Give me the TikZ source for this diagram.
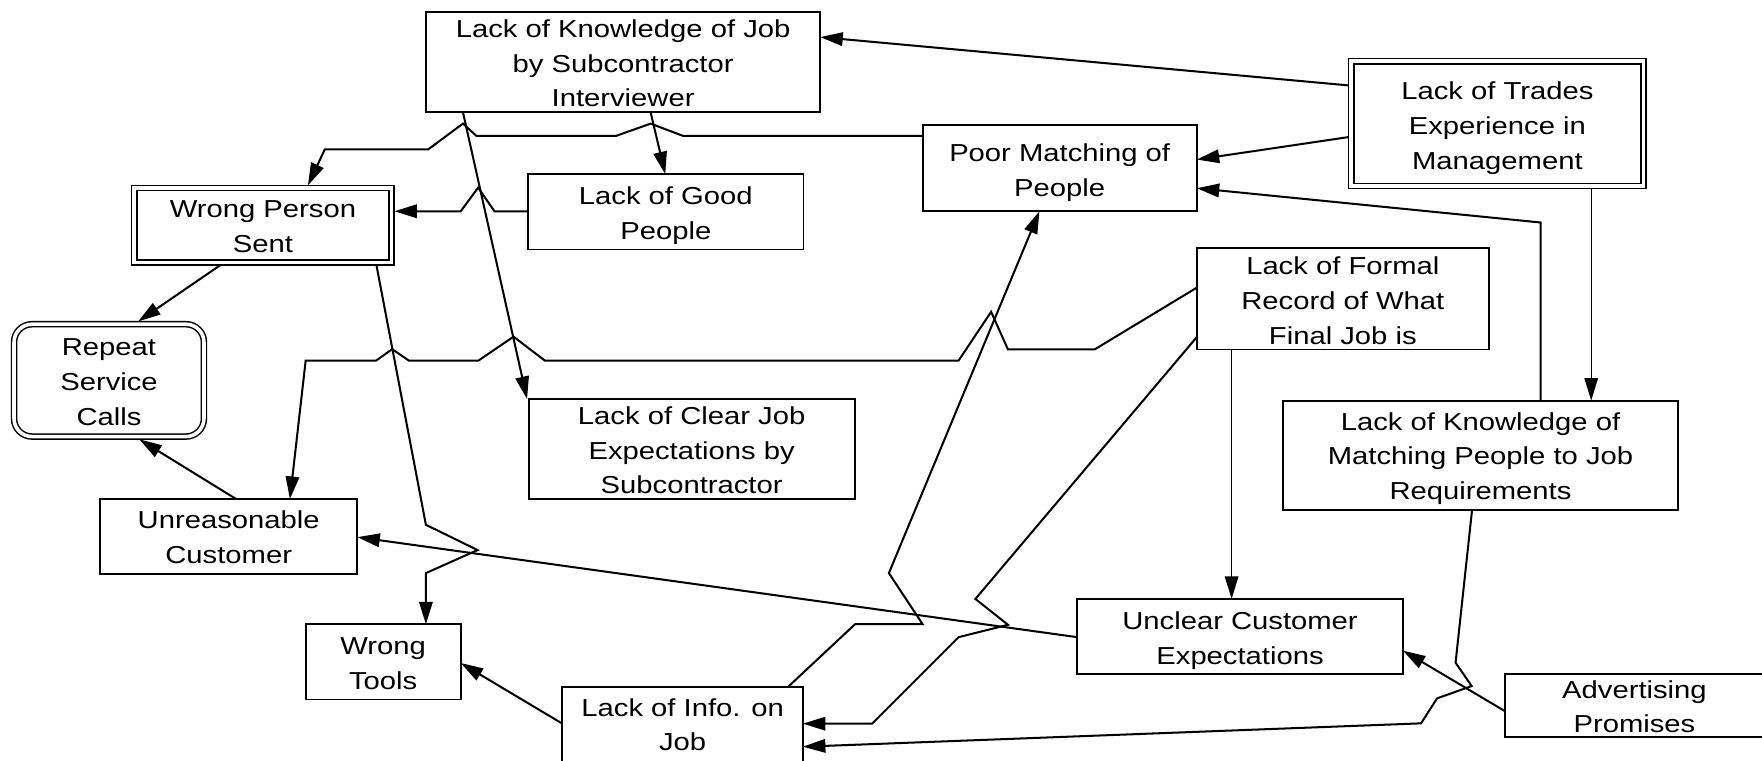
\documentclass[tikz,border=0pt]{standalone}
\usepackage{fontspec}
\usepackage{graphicx}
\setmainfont{Liberation Sans}
\usetikzlibrary{arrows.meta,calc}
% #1 node name, #2 first baseline below centre, #3 line spacing, #4 lines
\newcommand\tlines[4]{%
  \foreach \t [count=\i] in {#4} {%
    \node[txt, anchor=base] (#1-l\i) at ($(#1.center)+(0,{-(#2)-(\i-1)*(#3)})$) {\scalebox{1}[0.84]{\t}};
  }%
}
\begin{document}
\begin{tikzpicture}[x=1pt,y=1pt,
  box/.style={draw=black, line width=1.7pt, inner sep=0pt, outer sep=0pt},
  dbox/.style={box, line width=1.3pt, double=white, double distance=3.2pt, outer sep=2.5pt},
  txt/.style={inner sep=0pt, outer sep=0pt, font=\fontsize{26}{30}\selectfont},
  conn/.style={line width=1.8pt, line join=miter},
  thin/.style={line width=1.2pt},
  arr/.style={-{Triangle[length=20pt,width=12pt]}}
]
\fill[white] (0,0) rectangle (1568,-677);
\useasboundingbox (0,0) rectangle (1568,-677);

% boxes
\node[box, minimum width=351pt, minimum height=89pt] (KJob) at (554.5,-55.5) {};
\node[dbox, minimum width=260pt, minimum height=111pt] (Trades) at (1332.5,-110) {};
\node[box, minimum width=244pt, minimum height=77pt] (Poor) at (943,-149.4) {};
\node[dbox, minimum width=229pt, minimum height=66pt] (WPS) at (234,-200.5) {};
\node[box, minimum width=245pt, minimum height=67pt] (Good) at (592.5,-188.5) {};
\node[box, minimum width=260pt, minimum height=90pt] (Formal) at (1195,-266) {};
\node[dbox, rounded corners=16pt, minimum width=169pt, minimum height=100pt] (Repeat) at (97,-338.5) {};
\node[box, minimum width=290pt, minimum height=89pt] (Clear) at (615.5,-399.5) {};
\node[box, minimum width=351pt, minimum height=97pt] (KMatch) at (1317.5,-405) {};
\node[box, minimum width=229pt, minimum height=67pt] (Unreas) at (203.5,-477.5) {};
\node[box, minimum width=290pt, minimum height=67pt] (Unclear) at (1103.5,-566.5) {};
\node[box, minimum width=138pt, minimum height=67pt] (Tools) at (341,-589) {};
\node[box, minimum width=214pt, minimum height=67pt] (Info) at (607.5,-645) {};
\node[box, minimum width=230pt, minimum height=56pt] (Adv) at (1454.5,-628) {};

% texts
\tlines{KJob}{-22.3}{31}{Lack of Knowledge of Job,by Subcontractor,Interviewer}
\tlines{Trades}{-21.6}{31}{Lack of Trades,Experience in,Management}
\tlines{Poor}{-5.5}{31}{Poor Matching of,People}
\tlines{WPS}{-6.8}{31}{Wrong Person,Sent}
\tlines{Good}{-6.8}{31}{Lack of Good,People}
\tlines{Formal}{-21.3}{31}{Lack of Formal,Record of What,Final Job is}
\tlines{Repeat}{-22}{31}{Repeat,Service,Calls}
\tlines{Clear}{-22}{31}{Lack of Clear Job,Expectations by,Subcontractor}
\tlines{KMatch}{-22.3}{31}{Lack of Knowledge of,Matching People to Job,Requirements}
\tlines{Unreas}{-6.8}{31}{Unreasonable,Customer}
\tlines{Unclear}{-6.5}{31}{Unclear Customer,Expectations}
\tlines{Tools}{-6.8}{31}{Wrong,Tools}
\tlines{Info}{-7.8}{31}{Lack of Info. on,Job}
\tlines{Adv}{-6.8}{31}{Advertising,Promises}

% connectors
\draw[conn,arr] (Trades.west |- 0,-76) -- (KJob.east |- 0,-33);
\draw[conn,arr] (Trades.west |- 0,-122) -- (Poor.east |- 0,-142);
\draw[thin,arr] (Trades.south -| 1416,0) -- (KMatch.north -| 1416,0);
\draw[conn,arr] (KMatch.north -| 1371,0) -- (1371,-198) -- (Poor.east |- 0,-167.5);
\draw[conn,arr] (Poor.west |- 0,-121) -- (608,-121) -- (579,-110) -- (548,-121) -- (424,-121)
  -- (412,-110) -- (381,-133) -- (289,-133) -- (WPS.north -| 274,0);
\draw[conn,arr] (KJob.south -| 579,0) -- (Good.north -| 592,0);
\draw[conn,arr] (KJob.south -| 412,0) -- (Clear.north -| 469,0);
\draw[conn,arr] (Good.west |- 0,-188) -- (440,-188) -- (425.5,-167) -- (410,-188) -- (WPS.east |- 0,-188);
\draw[conn,arr] (WPS.south -| 196,0) -- (Repeat.north -| 123,0);
\draw[conn,arr] (WPS.south -| 335,0) -- (379,-467) -- (425,-489.5) -- (379,-510) -- (Tools.north -| 379,0);
\draw[conn,arr] (Formal.west |- 0,-256) -- (974,-311) -- (897,-311) -- (882,-277.5) -- (853,-321)
  -- (485,-321) -- (457,-299.6) -- (425.6,-321) -- (364,-321) -- (349,-310.7) -- (334.6,-321)
  -- (272,-321) -- (Unreas.north -| 258,0);
\draw[thin,arr] (Formal.south -| 1096,0) -- (Unclear.north -| 1096,0);
\draw[conn,arr] (Formal.west |- 0,-300) -- (868,-533) -- (897,-556) -- (853,-567) -- (776,-644)
  -- (Info.east |- 0,-644);
\draw[conn,arr] (Info.north -| 701,0) -- (761,-555.4) -- (821,-555.4) -- (791,-510) -- (Poor.south -| 925,0);
\draw[conn,arr] (Unclear.west |- 0,-567) -- (Unreas.east |- 0,-478);
\draw[conn,arr] (Unreas.north -| 210,0) -- (Repeat.south -| 124,0);
\draw[conn,arr] (Info.west |- 0,-644) -- (Tools.east |- 0,-590);
\draw[conn,arr] (KMatch.south -| 1310,0) -- (1295.3,-589.7) -- (1309.6,-610.5) -- (1278.8,-621.5)
  -- (1264.6,-643.7) -- (Info.east |- 0,-664.5);
\draw[conn,arr] (Adv.west |- 0,-633) -- (Unclear.east |- 0,-579);
\end{tikzpicture}
\end{document}
